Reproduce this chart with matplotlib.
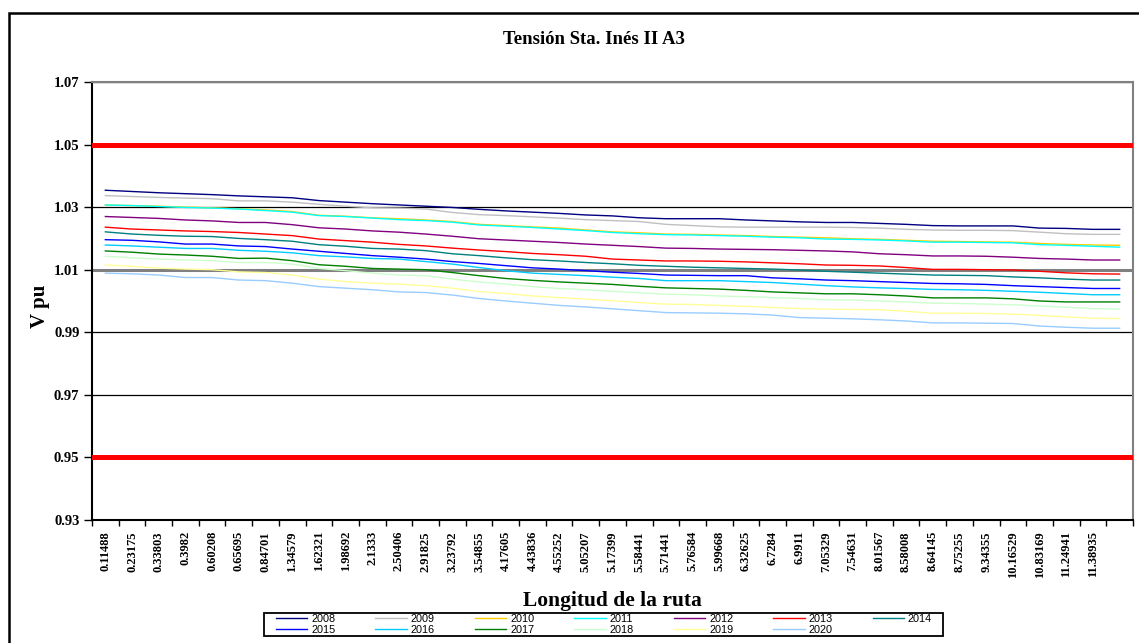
import numpy as np
import matplotlib
matplotlib.use("Agg")
from matplotlib import pyplot as plt
from matplotlib.patches import Rectangle
from matplotlib.ticker import FixedLocator, NullFormatter

# categories (km along the route)
categories = ["0.11488", "0.23175", "0.33803", "0.3982", "0.60208", "0.65695",
              "0.84701", "1.34579", "1.62321", "1.98692", "2.1333", "2.50406",
              "2.91825", "3.23792", "3.54855", "4.17605", "4.43836", "4.55252",
              "5.05207", "5.17399", "5.58441", "5.71441", "5.76584", "5.99668",
              "6.32625", "6.7284", "6.9911", "7.05329", "7.54631", "8.01567",
              "8.58008", "8.64145", "8.75255", "9.34355", "10.16529", "10.83169",
              "11.24941", "11.38935", ""]

years = ["2008", "2009", "2010", "2011", "2012", "2013", "2014",
         "2015", "2016", "2017", "2018", "2019", "2020"]

v2008 = [1.0354, 1.0350, 1.0346, 1.0343, 1.0340, 1.0336, 1.0333, 1.0330, 1.0321, 1.0316,
         1.0311, 1.0307, 1.0303, 1.0299, 1.0293, 1.0288, 1.0284, 1.0280, 1.0275, 1.0272,
         1.0266, 1.0263, 1.0263, 1.0263, 1.0259, 1.0256, 1.0253, 1.0251, 1.0251, 1.0248,
         1.0245, 1.0241, 1.0240, 1.0240, 1.0240, 1.0233, 1.0232, 1.0229, 1.0229]
v2009 = [1.0337, 1.0334, 1.0331, 1.0329, 1.0327, 1.0320, 1.0320, 1.0316, 1.0309, 1.0303,
         1.0298, 1.0297, 1.0294, 1.0283, 1.0276, 1.0273, 1.0269, 1.0265, 1.0260, 1.0257,
         1.0254, 1.0245, 1.0241, 1.0237, 1.0236, 1.0236, 1.0236, 1.0236, 1.0235, 1.0233,
         1.0229, 1.0227, 1.0226, 1.0226, 1.0225, 1.0220, 1.0215, 1.0213, 1.0213]
v2010 = [1.0307, 1.0305, 1.0303, 1.0300, 1.0298, 1.0295, 1.0291, 1.0286, 1.0274, 1.0271,
         1.0266, 1.0263, 1.0259, 1.0254, 1.0245, 1.0241, 1.0237, 1.0233, 1.0227, 1.0221,
         1.0218, 1.0214, 1.0213, 1.0211, 1.0209, 1.0206, 1.0204, 1.0202, 1.0199, 1.0197,
         1.0194, 1.0191, 1.0190, 1.0189, 1.0188, 1.0184, 1.0181, 1.0179, 1.0178]
v2011 = [1.0307, 1.0305, 1.0302, 1.0299, 1.0297, 1.0294, 1.0289, 1.0284, 1.0273, 1.0270,
         1.0265, 1.0260, 1.0257, 1.0252, 1.0243, 1.0239, 1.0235, 1.0230, 1.0225, 1.0219,
         1.0215, 1.0212, 1.0211, 1.0209, 1.0207, 1.0204, 1.0202, 1.0198, 1.0197, 1.0195,
         1.0192, 1.0188, 1.0188, 1.0187, 1.0186, 1.0180, 1.0178, 1.0175, 1.0172]
v2012 = [1.0270, 1.0267, 1.0264, 1.0259, 1.0256, 1.0251, 1.0251, 1.0244, 1.0234, 1.0230,
         1.0224, 1.0220, 1.0214, 1.0207, 1.0199, 1.0195, 1.0191, 1.0187, 1.0182, 1.0178,
         1.0174, 1.0169, 1.0168, 1.0166, 1.0165, 1.0164, 1.0162, 1.0160, 1.0157, 1.0151,
         1.0148, 1.0144, 1.0144, 1.0143, 1.0140, 1.0136, 1.0134, 1.0131, 1.0131]
v2013 = [1.0236, 1.0230, 1.0227, 1.0224, 1.0222, 1.0219, 1.0214, 1.0209, 1.0198, 1.0193,
         1.0188, 1.0181, 1.0176, 1.0169, 1.0163, 1.0158, 1.0152, 1.0148, 1.0143, 1.0134,
         1.0131, 1.0128, 1.0128, 1.0127, 1.0125, 1.0122, 1.0119, 1.0115, 1.0114, 1.0112,
         1.0107, 1.0101, 1.0101, 1.0100, 1.0099, 1.0095, 1.0090, 1.0087, 1.0086]
v2014 = [1.0221, 1.0214, 1.0210, 1.0207, 1.0206, 1.0200, 1.0196, 1.0191, 1.0180, 1.0175,
         1.0168, 1.0166, 1.0161, 1.0151, 1.0145, 1.0138, 1.0132, 1.0128, 1.0123, 1.0119,
         1.0114, 1.0111, 1.0108, 1.0106, 1.0104, 1.0102, 1.0099, 1.0095, 1.0092, 1.0089,
         1.0086, 1.0083, 1.0082, 1.0081, 1.0077, 1.0074, 1.0070, 1.0067, 1.0067]
v2015 = [1.0196, 1.0194, 1.0189, 1.0182, 1.0182, 1.0176, 1.0174, 1.0166, 1.0159, 1.0152,
         1.0145, 1.0140, 1.0134, 1.0126, 1.0120, 1.0113, 1.0106, 1.0102, 1.0097, 1.0092,
         1.0088, 1.0083, 1.0082, 1.0081, 1.0081, 1.0074, 1.0071, 1.0067, 1.0065, 1.0062,
         1.0059, 1.0056, 1.0055, 1.0053, 1.0049, 1.0046, 1.0043, 1.0040, 1.0040]
v2016 = [1.0179, 1.0176, 1.0172, 1.0168, 1.0168, 1.0162, 1.0159, 1.0154, 1.0145, 1.0141,
         1.0136, 1.0134, 1.0126, 1.0118, 1.0107, 1.0097, 1.0089, 1.0085, 1.0081, 1.0076,
         1.0072, 1.0065, 1.0065, 1.0065, 1.0062, 1.0059, 1.0054, 1.0049, 1.0045, 1.0042,
         1.0040, 1.0037, 1.0036, 1.0034, 1.0031, 1.0028, 1.0024, 1.0020, 1.0020]
v2017 = [1.0160, 1.0156, 1.0150, 1.0147, 1.0143, 1.0136, 1.0137, 1.0129, 1.0116, 1.0111,
         1.0104, 1.0102, 1.0100, 1.0091, 1.0081, 1.0072, 1.0066, 1.0061, 1.0057, 1.0053,
         1.0047, 1.0042, 1.0040, 1.0038, 1.0034, 1.0029, 1.0026, 1.0023, 1.0023, 1.0020,
         1.0016, 1.0010, 1.0010, 1.0010, 1.0007, 1.0000, 0.9997, 0.9997, 0.9997]
v2018 = [1.0143, 1.0138, 1.0134, 1.0131, 1.0129, 1.0123, 1.0123, 1.0118, 1.0104, 1.0097,
         1.0089, 1.0083, 1.0081, 1.0070, 1.0061, 1.0054, 1.0046, 1.0040, 1.0036, 1.0031,
         1.0026, 1.0022, 1.0020, 1.0016, 1.0014, 1.0011, 1.0008, 1.0004, 1.0003, 1.0000,
         0.9997, 0.9993, 0.9992, 0.9990, 0.9988, 0.9984, 0.9980, 0.9976, 0.9974]
v2019 = [1.0115, 1.0111, 1.0105, 1.0102, 1.0100, 1.0093, 1.0091, 1.0083, 1.0070, 1.0062,
         1.0057, 1.0054, 1.0049, 1.0041, 1.0030, 1.0024, 1.0016, 1.0011, 1.0006, 1.0001,
         0.9995, 0.9990, 0.9989, 0.9986, 0.9983, 0.9979, 0.9976, 0.9974, 0.9973, 0.9972,
         0.9967, 0.9961, 0.9961, 0.9960, 0.9958, 0.9954, 0.9949, 0.9945, 0.9944]
v2020 = [1.0089, 1.0087, 1.0083, 1.0075, 1.0075, 1.0067, 1.0065, 1.0057, 1.0046, 1.0041,
         1.0036, 1.0029, 1.0027, 1.0019, 1.0008, 1.0000, 0.9993, 0.9986, 0.9981, 0.9975,
         0.9969, 0.9963, 0.9962, 0.9961, 0.9959, 0.9955, 0.9947, 0.9945, 0.9943, 0.9940,
         0.9936, 0.9930, 0.9930, 0.9929, 0.9928, 0.9920, 0.9916, 0.9913, 0.9913]

series = [v2008, v2009, v2010, v2011, v2012, v2013, v2014,
          v2015, v2016, v2017, v2018, v2019, v2020]
colors = ["#000080", "#C0C0C0", "#FFCC00", "#00FFFF", "#800080", "#FF0000", "#008080",
          "#0000FF", "#00CCFF", "#008000", "#CCFFCC", "#FFFF99", "#99CCFF"]

limits = [1.05, 0.95]
yticks = [0.93, 0.95, 0.97, 0.99, 1.01, 1.03, 1.05, 1.07]

serif = "Liberation Serif"
W, H = 1139, 643
fig = plt.figure(figsize=(W / 100, H / 100), dpi=100)
# outer chart border (runs off the right and bottom edge)
fig.patches.append(Rectangle((9 / W, -0.1), 1.2, 1 - 13 / H + 0.1, transform=fig.transFigure,
                             fill=False, lw=1.8, ec="black"))

ax = fig.add_axes([92 / W, 1 - 520 / H, (1133 - 92) / W, (520 - 82) / H])
x = np.arange(len(categories))

# horizontal grid
for yv in yticks[1:]:
    if yv == 1.01:
        ax.axhline(yv, color="#808080", lw=2.2, zorder=1)
    else:
        ax.axhline(yv, color="black", lw=0.9, zorder=1)

for vals, c, yr in zip(series, colors, years):
    ax.plot(x[:len(vals)], vals, color=c, lw=1.0, label=yr, zorder=3)

for lv in limits:
    ax.axhline(lv, color="#FF0000", lw=3.6, zorder=4)

ax.set_xlim(-0.5, len(categories) - 0.5)
ax.set_ylim(0.93, 1.07)
ax.set_yticks(yticks)
ax.set_yticklabels(["%.2f" % t for t in yticks], fontfamily=serif, fontweight="bold", fontsize=10.5)
ax.tick_params(axis="y", length=6, width=1, direction="out", pad=3)

ax.set_xticks(x)
ax.set_xticklabels(categories, rotation=90, fontfamily=serif, fontweight="bold", fontsize=9)
ax.xaxis.set_minor_locator(FixedLocator(np.arange(-0.5, len(categories), 1.0)))
ax.xaxis.set_minor_formatter(NullFormatter())
ax.tick_params(axis="x", which="major", length=0, pad=8)
ax.tick_params(axis="x", which="minor", length=4, width=1, direction="out")

for s in ["top", "right"]:
    ax.spines[s].set_color("#808080")
    ax.spines[s].set_linewidth(1.5)
for s in ["left", "bottom"]:
    ax.spines[s].set_color("black")
    ax.spines[s].set_linewidth(1.5)

fig.text(594 / W, 1 - 39 / H, "Tensión Sta. Inés II A3", ha="center", va="center",
         fontfamily=serif, fontweight="bold", fontsize=13.5)
fig.text(40 / W, 1 - 306 / H, "V pu", ha="center", va="center", rotation=90,
         fontfamily=serif, fontweight="bold", fontsize=15)
fig.text(612 / W, 1 - 601 / H, "Longitud de la ruta", ha="center", va="center",
         fontfamily=serif, fontweight="bold", fontsize=15.5)

# legend: two rows, years in reading order; frame drawn separately
handles, labels = ax.get_legend_handles_labels()
order = [0, 7, 1, 8, 2, 9, 3, 10, 4, 11, 5, 12, 6]
fig.legend([handles[i] for i in order], [labels[i] for i in order],
           loc="center", bbox_to_anchor=(604 / W, 1 - 624.5 / H), ncol=7,
           prop={"family": "Liberation Sans", "size": 7.8}, frameon=False,
           handlelength=2.9, handletextpad=0.35, columnspacing=3.7,
           borderpad=0.2, labelspacing=0.05)
fig.patches.append(Rectangle((264 / W, 1 - 636 / H), (943 - 264) / W, 23 / H,
                             transform=fig.transFigure, fill=False, lw=1.3, ec="black"))

fig.savefig("out.png", dpi=100)
